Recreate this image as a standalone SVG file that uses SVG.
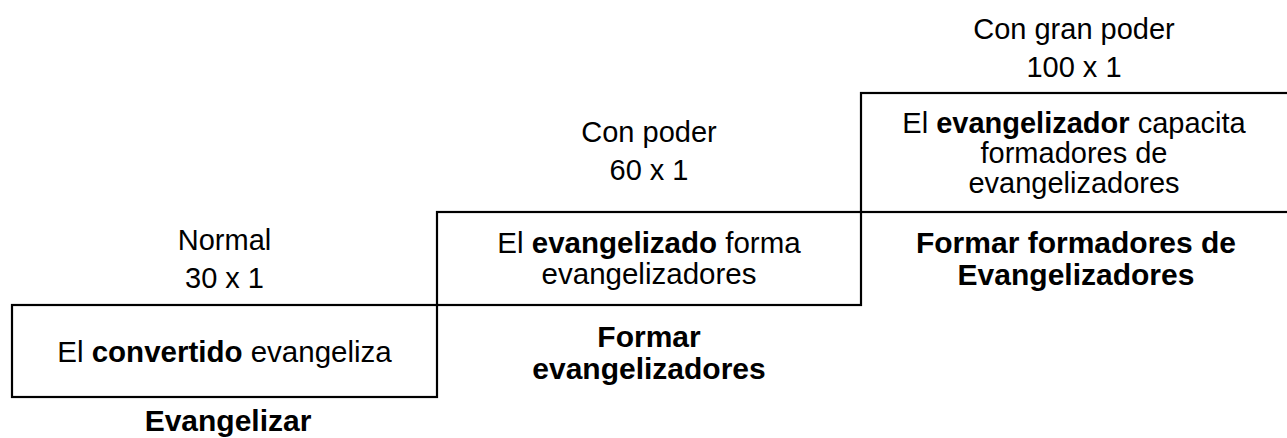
<svg xmlns="http://www.w3.org/2000/svg" width="1287" height="438" viewBox="0 0 1287 438">
<style>
.box{fill:none;stroke:#000;stroke-width:2.2}
text{font-family:"Liberation Sans",Arial,sans-serif;fill:#000;text-anchor:middle}
.r{font-size:29px}
.m{font-size:29.5px}
.b{font-size:30px;font-weight:bold}
.k{font-weight:bold}
</style>
<rect width="1287" height="438" fill="#fff"/>
<g id="step1">
<rect class="box" x="12" y="305" width="425" height="92"/>
<text class="r" x="224.5" y="250">Normal</text>
<text class="r" x="224.5" y="288">30 x 1</text>
<text class="m" x="224.5" y="362">El <tspan class="k">convertido</tspan> evangeliza</text>
<text class="b" x="228" y="431">Evangelizar</text>
</g>
<g id="step2">
<rect class="box" x="437" y="212" width="424" height="93"/>
<text class="r" x="649" y="142">Con poder</text>
<text class="r" x="649" y="180">60 x 1</text>
<text class="m" x="649" y="253">El <tspan class="k">evangelizado</tspan> forma</text>
<text class="m" x="649" y="284">evangelizadores</text>
<text class="b" x="649" y="347">Formar</text>
<text class="b" x="649" y="379">evangelizadores</text>
</g>
<g id="step3">
<rect class="box" x="861" y="93" width="440" height="119"/>
<text class="r" x="1074" y="39">Con gran poder</text>
<text class="r" x="1074" y="77">100 x 1</text>
<text class="r" x="1074" y="133">El <tspan class="k">evangelizador</tspan> capacita</text>
<text class="r" x="1074" y="163">formadores de</text>
<text class="r" x="1074" y="193">evangelizadores</text>
<text class="b" x="1076" y="253">Formar formadores de</text>
<text class="b" x="1076" y="285">Evangelizadores</text>
</g>
<g id="connectors"></g>
</svg>
